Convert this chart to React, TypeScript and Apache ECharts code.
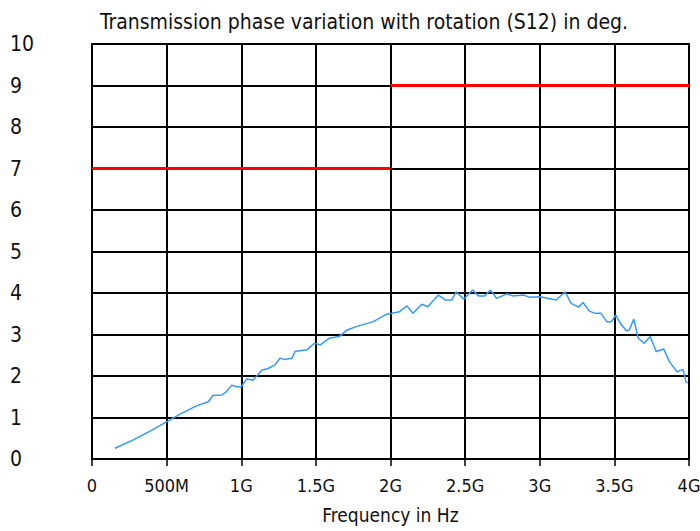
import React, { useEffect, useRef } from "react";
import * as echarts from "echarts";

const titleText = "Transmission phase variation with rotation (S12) in deg.";
const xAxisName = "Frequency in Hz";
const xTickLabels = ["0", "500M", "1G", "1.5G", "2G", "2.5G", "3G", "3.5G", "4G"];
const yTickLabels = ["0", "1", "2", "3", "4", "5", "6", "7", "8", "9", "10"];

// frequency in GHz
const phaseFreq = [
  0.154, 0.277, 0.389, 0.511, 0.59, 0.7, 0.78, 0.81, 0.87, 0.9, 0.936, 0.97, 1.0, 1.036, 1.08,
  1.137, 1.18, 1.226, 1.26, 1.29, 1.34, 1.36, 1.44, 1.49, 1.53, 1.59, 1.66, 1.71, 1.77, 1.885,
  1.975, 2.01, 2.06, 2.11, 2.15, 2.21, 2.25, 2.32, 2.37, 2.41, 2.44, 2.49, 2.55, 2.59, 2.63,
  2.67, 2.71, 2.78, 2.82, 2.89, 2.93, 3.0, 3.11, 3.17, 3.21, 3.26, 3.29, 3.33, 3.37, 3.41,
  3.45, 3.48, 3.51, 3.54, 3.58, 3.6, 3.63, 3.66, 3.7, 3.74, 3.78, 3.83, 3.87, 3.92, 3.96, 3.98,
  3.99,
];
const phaseValue = [
  0.26, 0.46, 0.67, 0.92, 1.08, 1.28, 1.38, 1.53, 1.54, 1.62, 1.78, 1.74, 1.74, 1.93, 1.9,
  2.14, 2.18, 2.27, 2.43, 2.4, 2.43, 2.59, 2.63, 2.79, 2.75, 2.91, 2.96, 3.11, 3.19, 3.31,
  3.49, 3.51, 3.55, 3.69, 3.51, 3.73, 3.67, 3.95, 3.83, 3.83, 4.03, 3.85, 4.07, 3.93, 3.93,
  4.07, 3.87, 3.98, 3.93, 3.95, 3.9, 3.91, 3.83, 4.03, 3.75, 3.66, 3.77, 3.57, 3.51, 3.51,
  3.31, 3.31, 3.47, 3.27, 3.09, 3.11, 3.37, 2.91, 2.79, 2.95, 2.59, 2.65, 2.34, 2.1, 2.16, 1.86,
  1.83,
];

const limitLowFreq = [0, 2];
const limitLowValue = [7, 7];
const limitHighFreq = [2, 4];
const limitHighValue = [9, 9];

const FONT = "'Liberation Sans Narrow', 'DejaVu Sans Condensed', 'Noto Sans', sans-serif";

export default function App() {
  const ref = useRef<HTMLDivElement>(null);
  useEffect(() => {
    if (!ref.current) return;
    const chart = echarts.init(ref.current, null, { renderer: "svg" });
    chart.setOption({
      animation: false,
      backgroundColor: "#ffffff",
      textStyle: { fontFamily: FONT },
      title: {
        text: titleText,
        left: 95,
        top: 6,
        textStyle: { fontFamily: FONT, fontSize: 21, fontWeight: "normal", color: "#111" },
      },
      grid: {
        left: 92,
        right: 11,
        top: 44,
        bottom: 72,
        outerBoundsMode: "none",
        containLabel: false,
        show: true,
        borderColor: "#000",
        borderWidth: 2,
        backgroundColor: "transparent",
      },
      xAxis: {
        type: "value",
        min: 0,
        max: 4,
        interval: 0.5,
        offset: 3,
        axisLine: { show: false },
        axisTick: { show: true, length: 7, lineStyle: { color: "#000", width: 1.5 } },
        splitLine: { show: true, lineStyle: { color: "#000", width: 2 } },
        axisLabel: {
          fontFamily: FONT,
          fontSize: 18,
          color: "#111",
          margin: 14,
          formatter: (v: number) => xTickLabels[Math.round(v / 0.5)] ?? "",
        },
        name: xAxisName,
        nameLocation: "middle",
        nameGap: 43,
        nameTextStyle: { fontFamily: FONT, fontSize: 19, color: "#111" },
      },
      yAxis: {
        type: "value",
        min: 0,
        max: 10,
        interval: 1,
        axisLine: { show: false },
        axisTick: { show: false },
        splitLine: { show: true, lineStyle: { color: "#000", width: 2 } },
        axisLabel: {
          fontFamily: FONT,
          fontSize: 21,
          color: "#111",
          align: "left",
          margin: 82,
          padding: [4, 0, 0, 0],
          formatter: (v: number) => yTickLabels[Math.round(v)] ?? "",
        },
      },
      series: [
        {
          type: "line",
          data: limitLowFreq.map((f, i) => [f, limitLowValue[i]]),
          showSymbol: false,
          lineStyle: { color: "#ff0000", width: 3 },
          z: 3,
        },
        {
          type: "line",
          data: limitHighFreq.map((f, i) => [f, limitHighValue[i]]),
          showSymbol: false,
          lineStyle: { color: "#ff0000", width: 3 },
          z: 3,
        },
        {
          type: "line",
          data: phaseFreq.map((f, i) => [f, phaseValue[i]]),
          showSymbol: false,
          lineStyle: { color: "#3399ff", width: 1.5 },
          z: 4,
        },
      ],
    });
    return () => chart.dispose();
  }, []);
  return <div ref={ref} style={{ width: 700, height: 531, position: "absolute", left: 0, top: 0 }} />;
}
